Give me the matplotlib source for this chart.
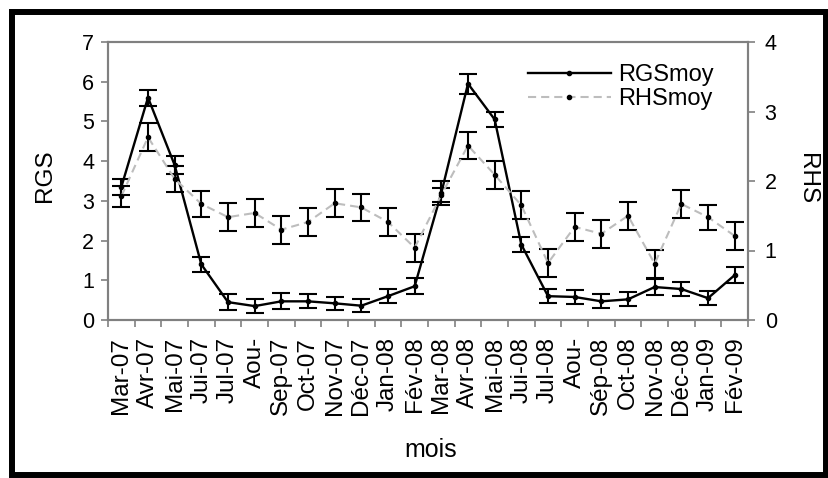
import numpy as np
import matplotlib
matplotlib.use('Agg')
import matplotlib.pyplot as plt
from matplotlib.patches import Rectangle

# donnees
mois = ['Mar-07', 'Avr-07', 'Mai-07', 'Jui-07', 'Jul-07', 'Aou-', 'Sep-07', 'Oct-07',
        'Nov-07', 'Déc-07', 'Jan-08', 'Fév-08', 'Mar-08', 'Avr-08', 'Mai-08', 'Jui-08',
        'Jul-08', 'Aou-', 'Sép-08', 'Oct-08', 'Nov-08', 'Déc-08', 'Jan-09', 'Fév-09']
rgs_moy = [3.35, 5.6, 3.9, 1.4, 0.45, 0.35, 0.47, 0.47, 0.42, 0.36, 0.6, 0.85,
           3.2, 5.95, 5.05, 1.9, 0.6, 0.58, 0.47, 0.52, 0.83, 0.78, 0.55, 1.13]
rgs_err = [0.2, 0.2, 0.22, 0.18, 0.2, 0.18, 0.2, 0.18, 0.17, 0.17, 0.18, 0.2,
           0.3, 0.25, 0.18, 0.18, 0.17, 0.17, 0.18, 0.18, 0.2, 0.18, 0.18, 0.2]
rhs_moy = [1.78, 2.63, 2.03, 1.67, 1.48, 1.54, 1.30, 1.41, 1.68, 1.62, 1.41, 1.04,
           1.8, 2.51, 2.09, 1.65, 0.82, 1.34, 1.24, 1.50, 0.81, 1.67, 1.48, 1.21]
rhs_err = [0.15, 0.2, 0.19, 0.19, 0.2, 0.2, 0.2, 0.2, 0.2, 0.2, 0.2, 0.2,
           0.1, 0.2, 0.2, 0.2, 0.2, 0.2, 0.2, 0.2, 0.2, 0.2, 0.18, 0.2]

plt.rcParams['font.family'] = ['Liberation Sans', 'DejaVu Sans']
gris = '#808080'

fig = plt.figure(figsize=(8.29, 4.78), dpi=100)
ax1 = fig.add_axes([108/829, 1 - 320/478, 640/829, 278/478])
ax2 = ax1.twinx()
x = np.arange(len(mois))

eb1 = ax1.errorbar(x, rgs_moy, yerr=rgs_err, color='black', lw=1.7, marker='o', ms=3,
                   ecolor='black', elinewidth=1.5, capsize=6.5, capthick=1.5)
eb2 = ax2.errorbar(x, rhs_moy, yerr=rhs_err, color='#bdbdbd', ls=(0, (3.9, 2.4)), lw=1.5,
                   marker='o', ms=3, mfc='black', mec='black',
                   ecolor='black', elinewidth=1.5, capsize=6.5, capthick=1.5)

# axes
ax1.set_xlim(-0.5, len(mois) - 0.5)
ax1.set_ylim(0, 7)
ax2.set_ylim(0, 4)
ax1.set_yticks(range(8))
ax2.set_yticks(range(5))
ax1.set_xticks(np.arange(-0.5, len(mois), 1))
ax1.set_xticklabels([])
ax1.set_xticks(x, minor=True)
ax1.set_xticklabels(mois, minor=True, rotation=90)

ax1.tick_params(axis='x', which='major', direction='out', length=5, width=1.2, color=gris)
ax1.tick_params(axis='x', which='minor', length=0, pad=12, labelsize=17.5)
ax1.tick_params(axis='y', direction='out', length=5, width=1.2, color=gris, labelsize=15.5, pad=5)
ax2.tick_params(axis='y', direction='out', length=5, width=1.2, color=gris, labelsize=15.5, pad=7)

for ax in (ax1, ax2):
    for s in ax.spines.values():
        s.set_color(gris)
        s.set_linewidth(1.5)

fig.text(45/829, 1 - 176/478, 'RGS', rotation=90, ha='center', va='center', fontsize=17.5)
fig.text(807/829, 1 - 179/478, 'RHS', rotation=-90, ha='center', va='center', fontsize=17.5)
fig.text(431/829, 1 - 450/478, 'mois', ha='center', va='center', fontsize=18)

ax2.legend(handles=[eb1[0], eb2[0]], labels=['RGSmoy', 'RHSmoy'], loc='upper left',
           bbox_to_anchor=(528/829, 1 - 64/478), bbox_transform=fig.transFigure,
           frameon=False, fontsize=17, handlelength=3.5, handletextpad=0.3,
           labelspacing=0.1, borderpad=0, borderaxespad=0, numpoints=1)

# cadre noir autour de la figure
fig.patches.append(Rectangle((12/829, 3/478), 814/829, 463/478, transform=fig.transFigure,
                             fill=False, ec='black', lw=4.3))

fig.savefig('out.png', dpi=100)
